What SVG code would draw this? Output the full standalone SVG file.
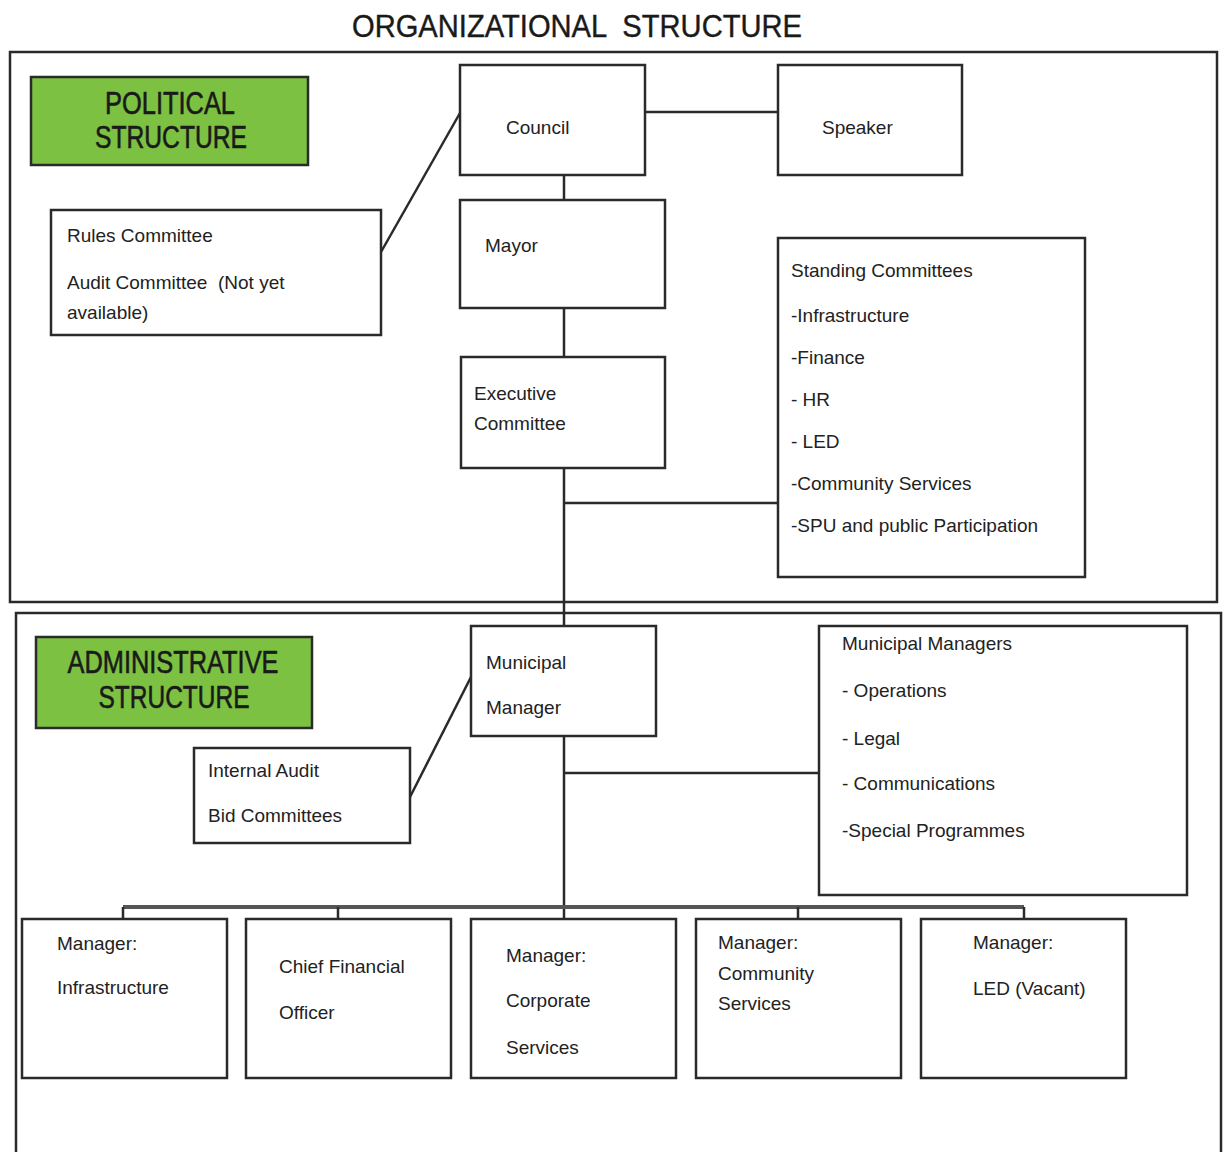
<svg xmlns="http://www.w3.org/2000/svg" width="1228" height="1152" viewBox="0 0 1228 1152">
<style>
  .frame{fill:none;stroke:#2a2a2a;stroke-width:2.5}
  .box{fill:#fff;stroke:#2a2a2a;stroke-width:2.5}
  .green{fill:#7cc142;stroke:#2a2a2a;stroke-width:2.5}
  .t{font-family:"Liberation Sans",Arial,sans-serif;font-size:19px;fill:#222}
  .h{font-family:"Liberation Sans",Arial,sans-serif;font-size:31px;fill:#1a1a1a;text-anchor:middle;stroke:#1a1a1a;stroke-width:0.6}
  .title{font-family:"Liberation Sans",Arial,sans-serif;font-size:31px;fill:#1a1a1a;stroke:#1a1a1a;stroke-width:0.4}
  .ln{fill:none;stroke:#2a2a2a;stroke-width:2.5}
  .bus{fill:none;stroke:#555;stroke-width:4}
</style>
<rect width="1228" height="1152" fill="#fff"/>
<text class="title" x="352" y="37" textLength="450" lengthAdjust="spacingAndGlyphs" xml:space="preserve">ORGANIZATIONAL  STRUCTURE</text>

<g id="political-frame"><rect class="frame" x="10" y="52" width="1207" height="550"/></g>
<g id="admin-frame"><rect class="frame" x="16" y="613" width="1205" height="545"/></g>

<g id="connectors">
  <line class="ln" x1="645" y1="112" x2="778" y2="112"/>
  <line class="ln" x1="564" y1="175" x2="564" y2="200"/>
  <line class="ln" x1="381" y1="252" x2="460" y2="113"/>
  <line class="ln" x1="564" y1="308" x2="564" y2="357"/>
  <line class="ln" x1="564" y1="468" x2="564" y2="626"/>
  <line class="ln" x1="564" y1="503" x2="778" y2="503"/>
  <line class="ln" x1="410" y1="797" x2="472" y2="675"/>
  <line class="ln" x1="564" y1="736" x2="564" y2="919"/>
  <line class="ln" x1="564" y1="773" x2="819" y2="773"/>
  <line class="bus" x1="123" y1="907" x2="1024" y2="907"/>
  <line class="ln" x1="123" y1="907" x2="123" y2="919"/>
  <line class="ln" x1="338" y1="907" x2="338" y2="919"/>
  <line class="ln" x1="798" y1="907" x2="798" y2="919"/>
  <line class="ln" x1="1024" y1="907" x2="1024" y2="919"/>
</g>

<g id="political-label">
  <rect class="green" x="31" y="77" width="277" height="88"/>
  <text class="h" x="170" y="114" textLength="130" lengthAdjust="spacingAndGlyphs">POLITICAL</text>
  <text class="h" x="171" y="148" textLength="152" lengthAdjust="spacingAndGlyphs">STRUCTURE</text>
</g>

<g id="council">
  <rect class="box" x="460" y="65" width="185" height="110"/>
  <text class="t" x="506" y="134">Council</text>
</g>
<g id="speaker">
  <rect class="box" x="778" y="65" width="184" height="110"/>
  <text class="t" x="822" y="134">Speaker</text>
</g>
<g id="rules-committee">
  <rect class="box" x="51" y="210" width="330" height="125"/>
  <text class="t" x="67" y="242">Rules Committee</text>
  <text class="t" x="67" y="289" xml:space="preserve">Audit Committee  (Not yet</text>
  <text class="t" x="67" y="319">available)</text>
</g>
<g id="mayor">
  <rect class="box" x="460" y="200" width="205" height="108"/>
  <text class="t" x="485" y="252">Mayor</text>
</g>
<g id="executive-committee">
  <rect class="box" x="461" y="357" width="204" height="111"/>
  <text class="t" x="474" y="400">Executive</text>
  <text class="t" x="474" y="430">Committee</text>
</g>
<g id="standing-committees">
  <rect class="box" x="778" y="238" width="307" height="339"/>
  <text class="t" x="791" y="277">Standing Committees</text>
  <text class="t" x="791" y="322">-Infrastructure</text>
  <text class="t" x="791" y="364">-Finance</text>
  <text class="t" x="791" y="406">- HR</text>
  <text class="t" x="791" y="448">- LED</text>
  <text class="t" x="791" y="490">-Community Services</text>
  <text class="t" x="791" y="532">-SPU and public Participation</text>
</g>

<g id="admin-label">
  <rect class="green" x="36" y="637" width="276" height="91"/>
  <text class="h" x="173" y="673" textLength="211" lengthAdjust="spacingAndGlyphs">ADMINISTRATIVE</text>
  <text class="h" x="174" y="708" textLength="151" lengthAdjust="spacingAndGlyphs">STRUCTURE</text>
</g>
<g id="municipal-manager">
  <rect class="box" x="471" y="626" width="185" height="110"/>
  <text class="t" x="486" y="669">Municipal</text>
  <text class="t" x="486" y="714">Manager</text>
</g>
<g id="internal-audit">
  <rect class="box" x="194" y="748" width="216" height="95"/>
  <text class="t" x="208" y="777">Internal Audit</text>
  <text class="t" x="208" y="822">Bid Committees</text>
</g>
<g id="municipal-managers">
  <rect class="box" x="819" y="626" width="368" height="269"/>
  <text class="t" x="842" y="650">Municipal Managers</text>
  <text class="t" x="842" y="697">- Operations</text>
  <text class="t" x="842" y="745">- Legal</text>
  <text class="t" x="842" y="790">- Communications</text>
  <text class="t" x="842" y="837">-Special Programmes</text>
</g>

<g id="manager-infrastructure">
  <rect class="box" x="22" y="919" width="205" height="159"/>
  <text class="t" x="57" y="950">Manager:</text>
  <text class="t" x="57" y="994">Infrastructure</text>
</g>
<g id="cfo">
  <rect class="box" x="246" y="919" width="205" height="159"/>
  <text class="t" x="279" y="973">Chief Financial</text>
  <text class="t" x="279" y="1019">Officer</text>
</g>
<g id="manager-corporate">
  <rect class="box" x="471" y="919" width="205" height="159"/>
  <text class="t" x="506" y="962">Manager:</text>
  <text class="t" x="506" y="1007">Corporate</text>
  <text class="t" x="506" y="1054">Services</text>
</g>
<g id="manager-community">
  <rect class="box" x="696" y="919" width="205" height="159"/>
  <text class="t" x="718" y="949">Manager:</text>
  <text class="t" x="718" y="980">Community</text>
  <text class="t" x="718" y="1010">Services</text>
</g>
<g id="manager-led">
  <rect class="box" x="921" y="919" width="205" height="159"/>
  <text class="t" x="973" y="949">Manager:</text>
  <text class="t" x="973" y="995">LED (Vacant)</text>
</g>
</svg>
